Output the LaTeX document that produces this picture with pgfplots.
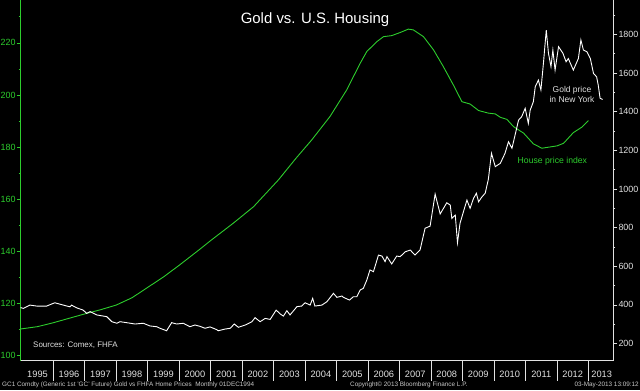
\documentclass[border=0pt]{standalone}
\usepackage{pgfplots}
\pgfplotsset{compat=1.18}
\usepackage{fontspec}
\setmainfont{Liberation Sans}
\definecolor{hpgreen}{RGB}{45,205,45}
\definecolor{lgrey}{RGB}{225,225,225}
\definecolor{fgrey}{RGB}{200,200,200}
\begin{document}
\begin{tikzpicture}[x=1bp,y=1bp]
\fill[black] (0,0) rectangle (640,390);
\useasboundingbox (0,0) rectangle (640,390);
\pgfplotsset{
  common/.style={
    at={(20.7bp,29.3bp)}, anchor=south west, scale only axis,
    width=592.6bp, height=360.7bp,
    xmin=1994.965, xmax=2013.79,
    tick align=outside, major tick length=4bp, minor tick length=2bp,
    axis line style={-, line width=0.8bp},
    /pgf/number format/assume math mode=true,
    /pgf/number format/1000 sep={},
  }
}
\begin{axis}[common,
  ymin=97.8, ymax=236.5,
  axis x line*=bottom, axis y line*=left,
  x axis line style={lgrey}, y axis line style={hpgreen},
  ytick={100,120,140,160,180,200,220},
  minor ytick={110,130,150,170,190,210,230},
  ytick style={hpgreen, line width=0.8bp},
  yticklabel style={text=hpgreen, font=\fontsize{9}{9}\selectfont, inner sep=1bp},
  xtick={1995.5,1996.5,1997.5,1998.5,1999.5,2000.5,2001.5,2002.5,2003.5,2004.5,2005.5,2006.5,2007.5,2008.5,2009.5,2010.5,2011.5,2012.5,2013.42},
  xticklabels={1995,1996,1997,1998,1999,2000,2001,2002,2003,2004,2005,2006,2007,2008,2009,2010,2011,2012,2013},
  xtick style={draw=none},
  xticklabel style={text=lgrey, font=\fontsize{9.3}{9.3}\selectfont, yshift=-3bp},
  extra x ticks={1996,1997,1998,1999,2000,2001,2002,2003,2004,2005,2006,2007,2008,2009,2010,2011,2012,2013},
  extra x tick labels={},
  extra x tick style={major tick length=20bp, xtick style={draw=lgrey, line width=0.8bp}},
]
\addplot[hpgreen, line width=0.9bp] coordinates {
(1994.965,110.0) (1995.5,110.9) (1996.0,112.4) (1996.5,114.1) (1997.0,115.8)
(1997.5,117.4) (1998.0,119.2) (1998.5,122.0) (1999.0,126.0) (1999.5,130.0)
(2000.0,134.5) (2000.66,140.7) (2001.0,144.0) (2001.72,150.7) (2002.36,157.0)
(2003.15,167.3) (2003.7,175.5) (2004.21,182.7) (2004.79,191.7) (2005.32,201.9)
(2005.75,212.2) (2005.96,216.7) (2006.28,220.5) (2006.49,222.4) (2006.75,222.8)
(2007.02,224.0) (2007.28,225.3) (2007.44,225.0) (2007.76,222.4) (2008.08,217.3)
(2008.39,210.9) (2008.71,203.8) (2008.98,197.4) (2009.24,196.5) (2009.51,194.0)
(2009.82,193.0) (2010.04,192.7) (2010.20,191.4) (2010.41,190.6) (2010.62,187.8)
(2010.94,185.3) (2011.25,181.2) (2011.52,179.5) (2011.73,179.9) (2012.0,180.4)
(2012.21,181.4) (2012.52,185.5) (2012.79,187.6) (2013.0,190.1)
};
\end{axis}
\begin{axis}[common,
  ymin=111, ymax=1979,
  axis x line=none, axis y line*=right,
  y axis line style={lgrey},
  ytick={200,400,600,800,1000,1200,1400,1600,1800},
  minor ytick={300,500,700,900,1100,1300,1500,1700,1900},
  ytick style={lgrey, line width=0.8bp},
  yticklabel style={text=lgrey, font=\fontsize{9}{9}\selectfont, inner sep=1bp},
]
\addplot[white, line width=0.9bp] coordinates {
(1994.94,387) (1995.05,382) (1995.26,399) (1995.47,394) (1995.79,394)
(1996.00,408) (1996.05,411) (1996.32,399) (1996.53,390) (1996.58,399)
(1996.74,385) (1996.95,373) (1997.06,356) (1997.17,365) (1997.38,348)
(1997.70,339) (1997.86,313) (1998.02,305) (1998.12,313) (1998.33,308)
(1998.60,301) (1998.86,305) (1999.07,291) (1999.29,287) (1999.39,279)
(1999.60,266) (1999.76,308) (1999.92,301) (2000.13,305) (2000.34,287)
(2000.50,296) (2000.66,289) (2000.82,279) (2000.98,286) (2001.19,272)
(2001.24,266) (2001.46,275) (2001.62,279) (2001.75,301) (2001.88,284)
(2002.10,296) (2002.31,313) (2002.41,334) (2002.57,313) (2002.73,330)
(2002.89,325) (2003.08,373) (2003.21,353) (2003.31,342) (2003.42,370)
(2003.52,348) (2003.74,391) (2003.89,394) (2004.00,411) (2004.16,399)
(2004.24,434) (2004.31,394) (2004.53,399) (2004.69,416) (2004.90,460)
(2005.01,439) (2005.17,446) (2005.22,439) (2005.41,425) (2005.53,442)
(2005.64,442) (2005.75,477) (2005.85,486) (2005.96,529) (2006.06,581)
(2006.17,572) (2006.33,658) (2006.44,653) (2006.54,624) (2006.60,650)
(2006.75,612) (2006.91,653) (2007.02,650) (2007.18,675) (2007.34,684)
(2007.49,658) (2007.65,684) (2007.81,797) (2007.97,808) (2008.13,974)
(2008.29,871) (2008.50,929) (2008.61,917) (2008.66,848) (2008.77,865)
(2008.84,722) (2008.92,822) (2009.03,883) (2009.14,943) (2009.24,900)
(2009.35,952) (2009.44,978) (2009.51,934) (2009.62,960) (2009.72,978)
(2009.82,1050) (2009.92,1185) (2010.04,1116) (2010.20,1133) (2010.35,1185)
(2010.46,1245) (2010.57,1211) (2010.67,1280) (2010.78,1357) (2010.88,1375)
(2010.99,1418) (2011.09,1340) (2011.15,1409) (2011.25,1452) (2011.31,1530)
(2011.41,1564) (2011.49,1513) (2011.57,1651) (2011.66,1823) (2011.73,1703)
(2011.81,1634) (2011.87,1720) (2011.94,1616) (2012.05,1737) (2012.19,1703)
(2012.29,1659) (2012.36,1676) (2012.52,1616) (2012.68,1676) (2012.76,1772)
(2012.84,1720) (2012.95,1711) (2013.06,1676) (2013.16,1599) (2013.26,1581)
(2013.31,1539) (2013.37,1470) (2013.45,1464)
};
\end{axis}
\node[anchor=base, text=white, font=\fontsize{15}{15}\selectfont, inner sep=0] at (315,367) {Gold vs. U.S. Housing};
\node[anchor=base west, text=lgrey, font=\fontsize{8}{8}\selectfont, inner sep=0] at (33,43) {Sources: Comex, FHFA};
\node[anchor=base, text=lgrey, font=\fontsize{8.5}{8.5}\selectfont, inner sep=0] at (572,298) {Gold price};
\node[anchor=base, text=lgrey, font=\fontsize{8.5}{8.5}\selectfont, inner sep=0] at (572,288) {in New York};
\node[anchor=base west, text=hpgreen, font=\fontsize{8.7}{8.7}\selectfont, inner sep=0] at (517.5,227) {House price index};
\node[anchor=base west, text=fgrey, font=\fontsize{6.4}{6.4}\selectfont, inner sep=0] at (2,3.5) {GC1 Comdty (Generic 1st 'GC' Future) Gold vs FHFA Home Prices\ \ Monthly 01DEC1994};
\node[anchor=base west, text=fgrey, font=\fontsize{6.4}{6.4}\selectfont, inner sep=0] at (350,3.5) {Copyright© 2013 Bloomberg Finance L.P.};
\node[anchor=base east, text=fgrey, font=\fontsize{6.4}{6.4}\selectfont, inner sep=0] at (639,3.5) {03-May-2013 13:09:12};
\end{tikzpicture}
\end{document}
